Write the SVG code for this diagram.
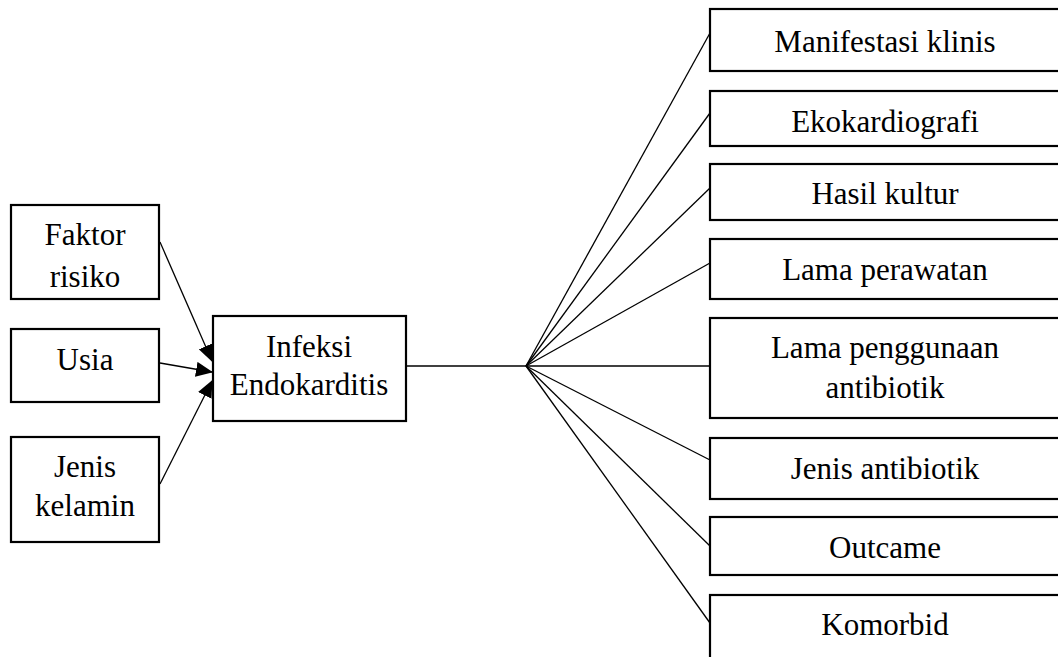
<svg xmlns="http://www.w3.org/2000/svg" width="1058" height="657" viewBox="0 0 1058 657">
<defs>
<style>
.box{fill:#fff;stroke:#000;stroke-width:2.2}
.t{font-family:"Liberation Serif","Times New Roman",serif;font-size:31px;fill:#000;text-anchor:middle}
.ln{stroke:#000;stroke-width:1.3;fill:none}
</style>
<marker id="ah" markerWidth="17" markerHeight="15" refX="16" refY="7.5" orient="auto" markerUnits="userSpaceOnUse">
<path d="M0,0 L17,7.5 L0,15 Z" fill="#000"/>
</marker>
</defs>
<rect width="1058" height="657" fill="#fff"/>
<g id="connectors">
<line class="ln" x1="160" y1="242" x2="212" y2="361" marker-end="url(#ah)"/>
<line class="ln" x1="160" y1="363" x2="212" y2="372" marker-end="url(#ah)"/>
<line class="ln" x1="160" y1="484" x2="212" y2="381" marker-end="url(#ah)"/>
<line class="ln" x1="406" y1="366" x2="526" y2="366"/>
<line class="ln" x1="526" y1="366" x2="710" y2="33"/>
<line class="ln" x1="526" y1="366" x2="710" y2="113"/>
<line class="ln" x1="526" y1="366" x2="710" y2="188"/>
<line class="ln" x1="526" y1="366" x2="710" y2="263"/>
<line class="ln" x1="526" y1="366" x2="710" y2="366"/>
<line class="ln" x1="526" y1="366" x2="710" y2="460"/>
<line class="ln" x1="526" y1="366" x2="710" y2="546"/>
<line class="ln" x1="526" y1="366" x2="710" y2="623"/>
</g>
<g id="faktor"><rect class="box" x="11" y="205" width="148" height="94"/><text class="t" x="85" y="245">Faktor</text><text class="t" x="85" y="287">risiko</text></g>
<g id="usia"><rect class="box" x="11" y="329" width="148" height="73"/><text class="t" x="85" y="370">Usia</text></g>
<g id="jenis-kelamin"><rect class="box" x="11" y="437" width="148" height="105"/><text class="t" x="85" y="477">Jenis</text><text class="t" x="85" y="516">kelamin</text></g>
<g id="infeksi"><rect class="box" x="213" y="316" width="193" height="105"/><text class="t" x="309" y="357">Infeksi</text><text class="t" x="309" y="395">Endokarditis</text></g>
<g id="manifestasi"><rect class="box" x="710" y="9" width="352" height="62"/><text class="t" x="885" y="52">Manifestasi klinis</text></g>
<g id="ekokardiografi"><rect class="box" x="710" y="91" width="352" height="55"/><text class="t" x="885" y="132">Ekokardiografi</text></g>
<g id="hasil-kultur"><rect class="box" x="710" y="164" width="352" height="56"/><text class="t" x="885" y="204">Hasil kultur</text></g>
<g id="lama-perawatan"><rect class="box" x="710" y="239" width="352" height="60"/><text class="t" x="885" y="280">Lama perawatan</text></g>
<g id="lama-penggunaan"><rect class="box" x="710" y="318" width="352" height="100"/><text class="t" x="885" y="358">Lama penggunaan</text><text class="t" x="885" y="398">antibiotik</text></g>
<g id="jenis-antibiotik"><rect class="box" x="710" y="438" width="352" height="61"/><text class="t" x="885" y="479">Jenis antibiotik</text></g>
<g id="outcame"><rect class="box" x="710" y="517" width="352" height="58"/><text class="t" x="885" y="558">Outcame</text></g>
<g id="komorbid"><rect class="box" x="710" y="595" width="352" height="80"/><text class="t" x="885" y="635">Komorbid</text></g>
</svg>
